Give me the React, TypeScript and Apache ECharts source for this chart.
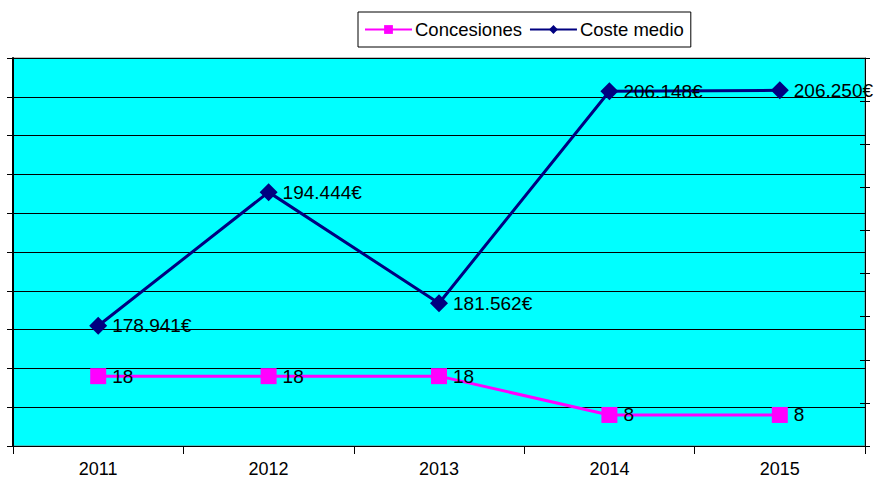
import React, { useEffect, useRef } from "react";
import * as echarts from "echarts";

const years = ["2011", "2012", "2013", "2014", "2015"];
const concesiones = [18, 18, 18, 8, 8];
const costeMedio = [178941, 194444, 181562, 206148, 206250];

const fmtEuro = (v: number) =>
  String(Math.round(v)).replace(/\B(?=(\d{3})+(?!\d))/g, ".") + "€";

const FONT = "'Liberation Sans', Arial, sans-serif";

export default function App() {
  const ref = useRef<HTMLDivElement>(null);
  useEffect(() => {
    if (!ref.current) return;
    const chart = echarts.init(ref.current, undefined, { renderer: "svg" });
    chart.setOption({
      animation: false,
      textStyle: { fontFamily: FONT },
      legend: {
        left: 358,
        top: 12,
        padding: [8, 7, 8, 6],
        itemGap: 7,
        itemWidth: 47,
        itemHeight: 11,
        borderColor: "#000",
        borderWidth: 1,
        textStyle: { fontSize: 18.5, color: "#000", fontFamily: FONT, padding: [0, 0, 0, -2] },
        data: ["Concesiones", "Coste medio"],
      },
      grid: {
        left: 13,
        right: 9,
        top: 58,
        bottom: 34,
        show: true,
        backgroundColor: "#00FFFF",
        borderColor: "#808080",
        borderWidth: 1,
      },
      xAxis: {
        type: "category",
        data: years,
        boundaryGap: true,
        axisLine: { lineStyle: { color: "#000", width: 1 } },
        axisTick: { show: true, length: 8, lineStyle: { color: "#000" } },
        axisLabel: { fontSize: 18, color: "#000", margin: 14, fontFamily: FONT },
      },
      yAxis: [
        {
          type: "value",
          position: "left",
          min: 0,
          max: 100,
          interval: 10,
          axisLine: { show: true, lineStyle: { color: "#000", width: 2 } },
          axisTick: { show: true, length: 6, lineStyle: { color: "#000" } },
          axisLabel: { show: false },
          splitLine: { show: true, lineStyle: { color: "#000", width: 1 } },
        },
        {
          type: "value",
          position: "right",
          min: 165000,
          max: 210000,
          interval: 5000,
          axisLine: { show: true, lineStyle: { color: "#000", width: 1 } },
          axisTick: { show: true, length: 5, lineStyle: { color: "#000" } },
          axisLabel: { show: false },
          splitLine: { show: false },
        },
        {
          type: "value",
          position: "right",
          min: 165000,
          max: 210000,
          interval: 5000,
          axisLine: { show: false },
          axisTick: { show: true, inside: true, length: 5, lineStyle: { color: "#000" } },
          axisLabel: { show: false },
          splitLine: { show: false },
        },
      ],
      series: [
        {
          name: "Concesiones",
          type: "line",
          yAxisIndex: 0,
          data: concesiones,
          symbol: "rect",
          symbolSize: 16,
          color: "#FF00FF",
          lineStyle: { color: "#FF00FF", width: 3 },
          itemStyle: { color: "#FF00FF" },
          label: {
            show: true,
            position: "right",
            distance: 6,
            fontSize: 19,
            color: "#000",
            fontFamily: FONT,
          },
          z: 3,
        },
        {
          name: "Coste medio",
          type: "line",
          yAxisIndex: 1,
          data: costeMedio,
          symbol: "diamond",
          symbolSize: 18,
          color: "#000080",
          lineStyle: { color: "#000080", width: 3 },
          itemStyle: { color: "#000080" },
          label: {
            show: true,
            position: "right",
            distance: 5,
            fontSize: 19,
            color: "#000",
            fontFamily: FONT,
            formatter: (p: any) => fmtEuro(p.value),
          },
          z: 4,
        },
      ],
    });
    return () => chart.dispose();
  }, []);
  return <div ref={ref} style={{ width: 874, height: 480, position: "absolute", left: 0, top: 0 }} />;
}
